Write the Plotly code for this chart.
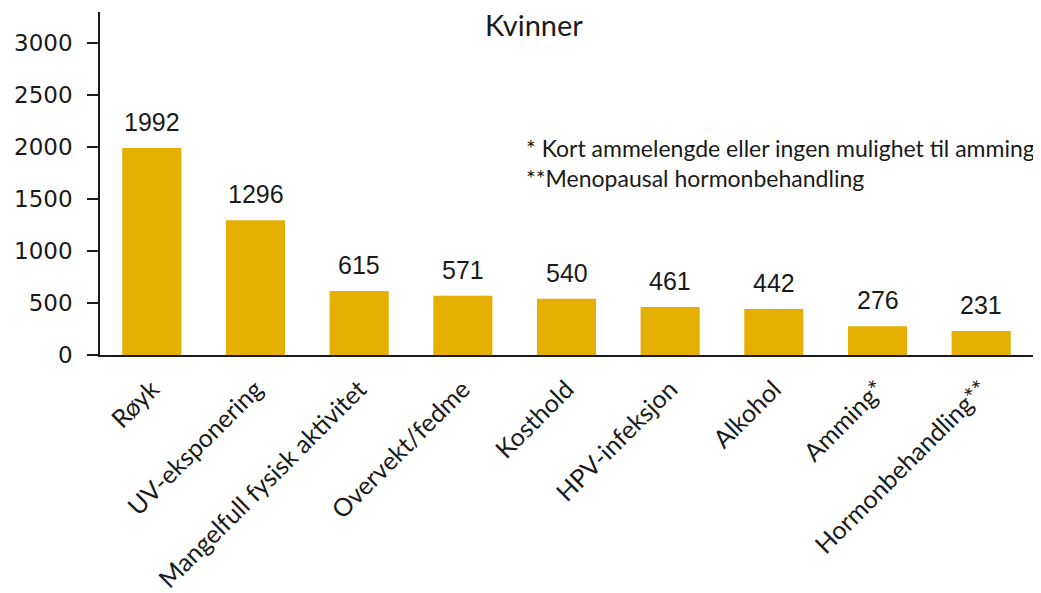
import plotly.graph_objects as go

# Data
categories = ['Røyk', 'UV-eksponering', 'Mangelfull fysisk aktivitet', 'Overvekt/fedme',
              'Kosthold', 'HPV-infeksjon', 'Alkohol', 'Amming', 'Hormonbehandling']
tick_labels = ['Røyk', 'UV-eksponering', 'Mangelfull fysisk aktivitet', 'Overvekt/fedme',
               'Kosthold', 'HPV-infeksjon', 'Alkohol', 'Amming*', 'Hormonbehandling**']
values = [1992, 1296, 615, 571, 540, 461, 442, 276, 231]
y_ticks = [0, 500, 1000, 1500, 2000, 2500, 3000]

bar_color = '#E5AF00'
text_font = 'Lato, Open Sans, sans-serif'
num_font = 'Liberation Sans, Arial, sans-serif'
tick_font = 'DejaVu Sans, Verdana, sans-serif'

fig = go.Figure()
fig.add_trace(go.Bar(
    x=categories, y=values,
    marker=dict(color=bar_color, line=dict(width=0)),
    width=0.57,
))

# value labels a bit above each bar
labels = [dict(x=c, y=v, text=str(v), xref='x', yref='y', showarrow=False,
               xanchor='center', yanchor='bottom', yshift=10,
               font=dict(family=num_font, size=25, color='#1a1a1a'))
          for c, v in zip(categories, values)]

# the page body adds an 8px margin, so the figure is 8px smaller than the window
fig.update_layout(
    width=1033, height=585,
    margin=dict(l=92, r=8, t=4, b=238),
    paper_bgcolor='white', plot_bgcolor='white',
    showlegend=False,
    bargap=0.43,
    xaxis=dict(
        tickmode='array', tickvals=categories, ticktext=tick_labels,
        tickangle=-45, ticks='', ticklabelstandoff=8,
        tickfont=dict(family=text_font, size=25, color='#1a1a1a'),
        showline=True, linecolor='#1a1a1a', linewidth=1.5,
        showgrid=False, zeroline=False, automargin=False,
    ),
    yaxis=dict(
        range=[0, 3300], tickvals=y_ticks,
        ticks='outside', ticklen=11, tickwidth=1.5, tickcolor='#1a1a1a',
        ticklabelstandoff=10,
        tickfont=dict(family=tick_font, size=23, color='#1a1a1a'),
        showline=True, linecolor='#1a1a1a', linewidth=1.5,
        showgrid=False, zeroline=False, automargin=False,
    ),
    yaxis2=dict(
        overlaying='y', matches='y', range=[0, 3300], tickvals=y_ticks,
        ticks='inside', ticklen=7, tickwidth=1.5, tickcolor='#1a1a1a',
        showticklabels=False, showline=False, showgrid=False, zeroline=False,
    ),
    annotations=labels + [
        dict(text='Kvinner', xref='paper', yref='paper', x=0.465, y=1.02,
             xanchor='center', yanchor='top', showarrow=False,
             font=dict(family=text_font, size=29, color='#1a1a1a')),
        dict(text='* Kort ammelengde eller ingen mulighet til amming<br>**Menopausal hormonbehandling',
             xref='paper', yref='paper', x=0.454, y=0.65, xanchor='left', yanchor='top',
             align='left', showarrow=False,
             font=dict(family=text_font, size=23, color='#1a1a1a')),
    ],
)

fig.write_html('out.html')
